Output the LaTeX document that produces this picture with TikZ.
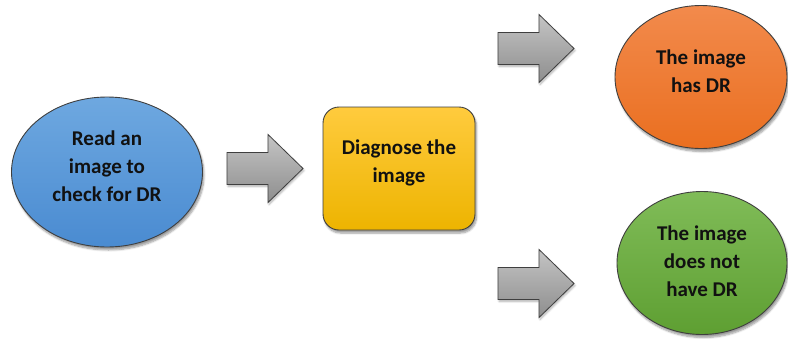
\documentclass[tikz,border=0pt]{standalone}
\usepackage{fontspec}
\setmainfont{Carlito}
\usetikzlibrary{shapes.geometric,shadows.blur}
\definecolor{edgec}{HTML}{3F3F3F}
\definecolor{blueT}{HTML}{6EA8E0}
\definecolor{blueB}{HTML}{4A8BD1}
\definecolor{orT}{HTML}{F28A4C}
\definecolor{orB}{HTML}{EA6F20}
\definecolor{grT}{HTML}{80BC58}
\definecolor{grB}{HTML}{5E9F32}
\definecolor{yeT}{HTML}{FFCB3E}
\definecolor{yeB}{HTML}{EDB400}
\definecolor{gyT}{HTML}{C4C4C4}
\definecolor{gyB}{HTML}{8E8E8E}
\definecolor{txt}{HTML}{111111}
\tikzset{
  base/.style={draw=edgec, line width=0.9pt, inner sep=0pt,
    blur shadow={shadow xshift=1.5pt, shadow yshift=-3pt, shadow blur steps=6, shadow opacity=40}},
  label text/.style={align=center, text=txt, inner sep=0pt,
    font=\fontsize{21}{28}\selectfont\bfseries},
  oval/.style={base, ellipse},
  bluefill/.style={top color=blueT, bottom color=blueB},
  orfill/.style={top color=orT, bottom color=orB},
  grfill/.style={top color=grT, bottom color=grB},
  boxstyle/.style={base, rounded corners=16pt, top color=yeT, bottom color=yeB},
  blockarrow/.style={draw=edgec, line width=0.8pt, top color=gyT, bottom color=gyB,
    blur shadow={shadow xshift=1pt, shadow yshift=-2pt, shadow blur steps=5, shadow opacity=30}},
  pics/barrow/.style={code={
    \draw[blockarrow] (0,-16) -- (41,-16) -- (41,-34) -- (76,0) -- (41,34) -- (41,16) -- (0,16) -- cycle;
  }}
}
\begin{document}
\begin{tikzpicture}[x=1pt,y=-1pt]
\useasboundingbox (0,0) rectangle (788,338);
\node[oval, bluefill, minimum width=191pt, minimum height=150pt] (read) at (107,172) {};
\node[label text] (readtxt) at ([yshift=6pt]read.center) {Read an\\image to\\check for DR};
\node[boxstyle, minimum width=152pt, minimum height=123pt] (diag) at (399,168.5) {};
\node[label text] (diagtxt) at ([yshift=6pt]diag.center) {Diagnose the\\image};
\node[oval, orfill, minimum width=172pt, minimum height=143pt] (has) at (701,77) {};
\node[label text] (hastxt) at ([yshift=6pt]has.center) {The image\\has DR};
\node[oval, grfill, minimum width=170pt, minimum height=143pt] (hasnot) at (702,263) {};
\node[label text] (hasnottxt) at ([yshift=2pt]hasnot.center) {The image\\does not\\have DR};
\coordinate (a1) at (227,168.5);
\coordinate (a2) at (498,48.5);
\coordinate (a3) at (498,283.5);
\pic at (a1) {barrow};
\pic at (a2) {barrow};
\pic at (a3) {barrow};
\end{tikzpicture}
\end{document}
